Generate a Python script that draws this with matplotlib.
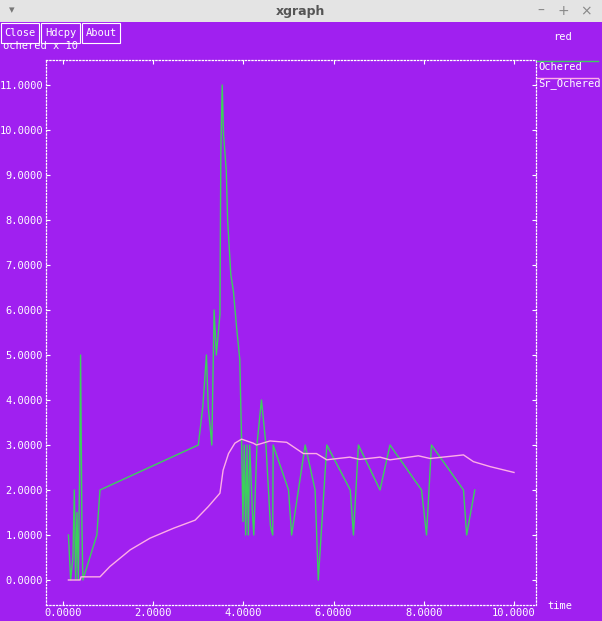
"""xgraph window: Ochered vs Sr_Ochered over time."""
import matplotlib
matplotlib.use("Agg")
import matplotlib.pyplot as plt
from matplotlib.patches import Rectangle
from matplotlib.lines import Line2D

# ---- data ----
och_t = [0.12, 0.17, 0.22, 0.25, 0.28, 0.31, 0.34, 0.37, 0.39, 0.42, 0.44,
         0.75, 0.82, 3.00, 3.10, 3.18, 3.22, 3.30, 3.35, 3.40, 3.48, 3.50,
         3.53, 3.56, 3.62, 3.65, 3.72, 3.78, 3.85, 3.92, 3.96, 3.99, 4.02,
         4.05, 4.08, 4.11, 4.14, 4.20, 4.23, 4.30, 4.40, 4.50, 4.60, 4.65,
         4.66, 5.00, 5.07, 5.37, 5.59, 5.66, 5.85, 6.37, 6.44, 6.55, 7.03,
         7.25, 7.95, 8.06, 8.17, 8.88, 8.95, 9.13]
och_v = [1.0, 0.0, 0.5, 2.0, 0.0, 1.5, 0.0, 2.5, 5.0, 1.2, 0.0,
         1.0, 2.0, 3.0, 3.85, 5.0, 3.85, 3.0, 6.0, 5.0, 5.9, 9.5,
         11.0, 9.9, 9.1, 8.0, 6.8, 6.4, 5.6, 4.9, 3.1, 1.3, 3.0,
         1.0, 3.0, 1.0, 3.0, 1.5, 1.0, 3.0, 4.0, 3.0, 1.2, 1.0,
         3.0, 2.0, 1.0, 3.0, 2.0, 0.0, 3.0, 2.0, 1.0, 3.0, 2.0,
         3.0, 2.0, 1.0, 3.0, 2.0, 1.0, 2.0]

sr_t = [0.12, 0.38, 0.40, 0.82, 1.04, 1.49, 1.93, 2.45, 2.93, 3.22, 3.48,
        3.55, 3.67, 3.81, 3.96, 4.22, 4.29, 4.59, 4.96, 5.33, 5.62, 5.85,
        5.92, 6.36, 6.58, 7.03, 7.25, 7.88, 8.14, 8.88, 9.10, 9.47, 10.0]
sr_v = [0.0, 0.0, 0.07, 0.07, 0.30, 0.67, 0.93, 1.15, 1.33, 1.63, 1.93,
        2.44, 2.81, 3.04, 3.13, 3.04, 3.00, 3.09, 3.06, 2.81, 2.81, 2.67,
        2.68, 2.73, 2.68, 2.73, 2.67, 2.76, 2.70, 2.78, 2.63, 2.52, 2.39]

series = [("Ochered", och_t, och_v, "#3cd05c"),
          ("Sr_Ochered", sr_t, sr_v, "#ffaee6")]
yticks = list(range(0, 12))
xticks = [0, 2, 4, 6, 8, 10]

PURPLE = "#a020f0"
W, H = 602, 621
MONO = "DejaVu Sans Mono"
FS = 7


def fx(px):
    return px / W


def fy(py):
    return 1 - py / H


def main():
    fig = plt.figure(figsize=(W / 100, H / 100), dpi=100, facecolor=PURPLE)

    # title bar
    fig.patches.append(Rectangle((0, fy(22)), 1, 22 / H, transform=fig.transFigure,
                                 facecolor="#e4e4e4", edgecolor="none"))
    fig.text(0.5, fy(11), "xgraph", ha="center", va="center", fontsize=9,
             fontweight="bold", color="#555555")
    fig.text(fx(12), fy(10), "\u25be", ha="center", va="center", fontsize=8, color="#777777")
    for px, s in [(541, "\u2013"), (563, "+"), (586, "\u00d7")]:
        fig.text(fx(px), fy(11), s, ha="center", va="center", fontsize=10, color="#888888")

    # buttons
    for x0, x1, lab in [(1, 39, "Close"), (41, 80, "Hdcpy"), (82, 120, "About")]:
        fig.patches.append(Rectangle((fx(x0), fy(43)), (x1 - x0) / W, 20 / H,
                                     transform=fig.transFigure, facecolor="none",
                                     edgecolor="white", lw=0.8))
        fig.text(fx((x0 + x1) / 2), fy(33), lab, ha="center", va="center",
                 fontsize=FS + 0.5, family=MONO, color="white")
    fig.text(fx(3), fy(46), "ochered x 10", ha="left", va="center",
             fontsize=FS + 0.5, family=MONO, color="white")
    fig.text(fx(553), fy(37), "red", ha="left", va="center",
             fontsize=FS + 0.5, family=MONO, color="white")
    fig.text(fx(547), fy(606), "time", ha="left", va="center",
             fontsize=FS + 0.5, family=MONO, color="white")

    # plot area
    ax = fig.add_axes([fx(46), fy(605), (536 - 46) / W, (605 - 60) / H])
    ax.set_facecolor(PURPLE)
    for name, t, v, c in series:
        ax.plot(t, v, color=c, lw=1.0, label=name)
    ax.set_xlim(-17 / 45.1, 473 / 45.1)
    ax.set_ylim(-25 / 45, 520 / 45)
    ax.set_xticks(xticks)
    ax.set_yticks(yticks)
    ax.set_xticklabels([f"{v:.4f}" for v in xticks])
    ax.set_yticklabels([f"{v:.4f}" for v in yticks])
    ax.tick_params(direction="in", length=3, width=0.8, colors="white",
                   top=True, right=True, labelsize=FS + 0.5, pad=2)
    for lab in ax.get_xticklabels() + ax.get_yticklabels():
        lab.set_family(MONO)
    for sp in ax.spines.values():
        sp.set_color("white")
        sp.set_linestyle(":")
        sp.set_linewidth(0.9)

    # legend, drawn the xgraph way at the right edge
    for i, (name, t, v, c) in enumerate(series):
        ly = 61 + 17 * i
        fig.add_artist(Line2D([fx(537), fx(598)], [fy(ly), fy(ly)], color=c, lw=1.0,
                              transform=fig.transFigure))
        fig.text(fx(538), fy(ly + 6), name, ha="left", va="center",
                 fontsize=FS + 0.5, family=MONO, color="white")

    fig.savefig("out.png", dpi=100, facecolor=PURPLE)


if __name__ == "__main__":
    main()
